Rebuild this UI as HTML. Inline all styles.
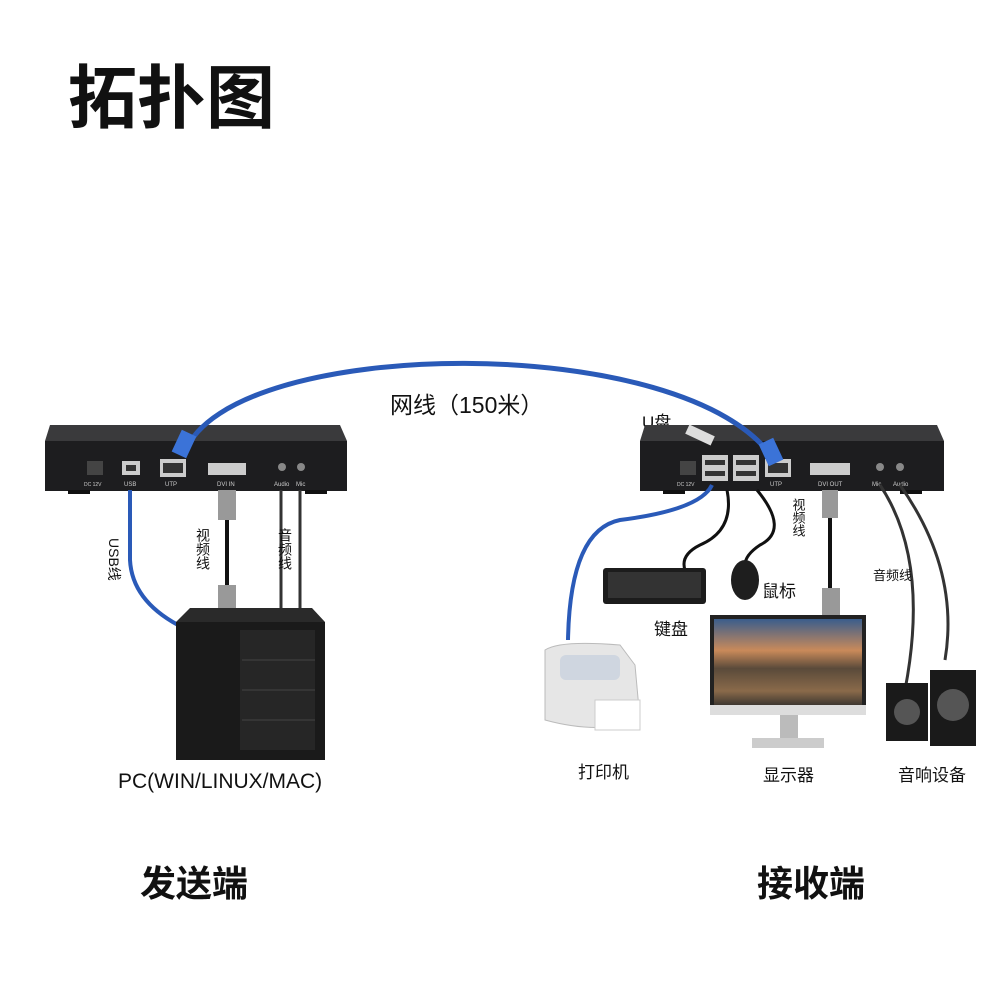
<!DOCTYPE html>
<html><head><meta charset="utf-8"><style>
html,body{margin:0;padding:0;background:#fff;}
svg{display:block}
text{font-family:"Liberation Sans","Noto Sans CJK SC",sans-serif;}
</style></head><body>
<svg width="1000" height="1000" viewBox="0 0 1000 1000" xmlns="http://www.w3.org/2000/svg">
<defs>
<linearGradient id="sky" x1="0" y1="0" x2="0" y2="1">
<stop offset="0" stop-color="#3a5d8c"/><stop offset="0.35" stop-color="#c98a5a"/><stop offset="0.55" stop-color="#5a4a3a"/><stop offset="0.8" stop-color="#8a6a4a"/><stop offset="1" stop-color="#2a2a2a"/>
</linearGradient>
</defs>
<text x="68" y="122" font-size="69" font-weight="bold" fill="#111">拓扑图</text>

<text x="390" y="413" font-size="23" fill="#111">网线（150米）</text>
<text x="642" y="428" font-size="17" fill="#111">U盘</text>

<!-- left box -->
<polygon points="50,425 340,425 347,441 45,441" fill="#3a3a3c"/>
<rect x="45" y="441" width="302" height="50" fill="#1d1d1f"/>
<rect x="68" y="490" width="22" height="4" fill="#111"/><rect x="305" y="490" width="22" height="4" fill="#111"/>
<rect x="87" y="461" width="16" height="14" fill="#444"/><text x="84" y="486" font-size="5" fill="#ccc">DC 12V</text>
<rect x="122" y="461" width="18" height="14" fill="#ccc"/><rect x="126" y="465" width="10" height="6" fill="#333"/><text x="124" y="486" font-size="6" fill="#ccc">USB</text>
<rect x="160" y="459" width="26" height="18" fill="#ccc"/><rect x="163" y="463" width="20" height="10" fill="#333"/><text x="165" y="486" font-size="6" fill="#ccc">UTP</text>
<rect x="208" y="463" width="38" height="12" fill="#ccc"/><text x="217" y="486" font-size="6" fill="#ccc">DVI IN</text>
<circle cx="282" cy="467" r="4" fill="#888"/><circle cx="301" cy="467" r="4" fill="#888"/>
<text x="274" y="486" font-size="6" fill="#ccc">Audio</text><text x="296" y="486" font-size="6" fill="#ccc">Mic</text>

<!-- left cables -->
<path d="M130 490 L130 560 Q132 600 178 625" fill="none" stroke="#2a5ab8" stroke-width="4"/>
<text font-size="14" fill="#111" transform="translate(109,538) rotate(90)">USB线</text>
<rect x="218" y="490" width="18" height="30" fill="#999"/>
<line x1="227" y1="520" x2="227" y2="585" stroke="#111" stroke-width="4"/>
<rect x="218" y="585" width="18" height="28" fill="#999"/>
<text x="203" y="528" font-size="14" fill="#111" writing-mode="tb">视频线</text>
<line x1="281" y1="490" x2="281" y2="612" stroke="#333" stroke-width="3"/>
<line x1="300" y1="490" x2="300" y2="612" stroke="#333" stroke-width="3"/>
<text x="285" y="528" font-size="14" fill="#111" writing-mode="tb">音频线</text>

<!-- PC -->
<polygon points="190,608 312,608 325,622 176,622" fill="#2a2a2a"/>
<rect x="176" y="622" width="149" height="138" fill="#1a1a1a"/>
<rect x="240" y="630" width="75" height="120" fill="#262626"/>
<line x1="242" y1="660" x2="315" y2="660" stroke="#444"/><line x1="242" y1="690" x2="315" y2="690" stroke="#444"/><line x1="242" y1="720" x2="315" y2="720" stroke="#444"/>
<text x="118" y="788" font-size="21" fill="#111">PC(WIN/LINUX/MAC)</text>
<text x="140" y="896" font-size="36" font-weight="bold" fill="#111">发送端</text>

<!-- right box -->
<polygon points="645,425 937,425 944,441 640,441" fill="#3a3a3c"/>
<rect x="640" y="441" width="304" height="50" fill="#1d1d1f"/>
<rect x="663" y="490" width="22" height="4" fill="#111"/><rect x="900" y="490" width="22" height="4" fill="#111"/>
<rect x="680" y="461" width="16" height="14" fill="#444"/><text x="677" y="486" font-size="5" fill="#ccc">DC 12V</text>
<rect x="702" y="455" width="26" height="26" fill="#ccc"/><rect x="733" y="455" width="26" height="26" fill="#ccc"/>
<rect x="705" y="460" width="20" height="5" fill="#333"/><rect x="705" y="471" width="20" height="5" fill="#333"/>
<rect x="736" y="460" width="20" height="5" fill="#333"/><rect x="736" y="471" width="20" height="5" fill="#333"/>
<rect x="686" y="430" width="28" height="10" fill="#ddd" transform="rotate(25 700 435)"/>
<rect x="765" y="459" width="26" height="18" fill="#ccc"/><rect x="768" y="463" width="20" height="10" fill="#333"/><text x="770" y="486" font-size="6" fill="#ccc">UTP</text>
<rect x="810" y="463" width="40" height="12" fill="#ccc"/><text x="818" y="486" font-size="6" fill="#ccc">DVI OUT</text>
<circle cx="880" cy="467" r="4" fill="#888"/><circle cx="900" cy="467" r="4" fill="#888"/>
<text x="872" y="486" font-size="6" fill="#ccc">Mic</text><text x="893" y="486" font-size="6" fill="#ccc">Audio</text>

<!-- network cable over boxes -->
<path d="M185 452 C 230 335, 690 330, 774 460" fill="none" stroke="#2a5ab8" stroke-width="5"/>
<rect x="176" y="432" width="16" height="24" fill="#3b73d8" transform="rotate(25 184 444)"/>
<rect x="763" y="440" width="16" height="24" fill="#3b73d8" transform="rotate(-25 771 452)"/>

<!-- right cables -->
<path d="M712 485 Q700 510 620 520 Q570 530 568 640" fill="none" stroke="#2a5ab8" stroke-width="4"/>
<path d="M727 490 Q735 530 700 545 Q680 555 685 570" fill="none" stroke="#111" stroke-width="3"/>
<path d="M757 490 Q790 530 760 545 Q745 555 745 565" fill="none" stroke="#111" stroke-width="3"/>
<rect x="822" y="490" width="16" height="28" fill="#999"/>
<line x1="830" y1="518" x2="830" y2="590" stroke="#111" stroke-width="4"/>
<rect x="822" y="588" width="18" height="28" fill="#999"/>
<text x="798" y="498" font-size="13" fill="#111" writing-mode="tb">视频线</text>
<path d="M880 485 Q930 560 905 690" fill="none" stroke="#333" stroke-width="3"/>
<path d="M900 485 Q960 570 945 660" fill="none" stroke="#333" stroke-width="3"/>
<text x="873" y="580" font-size="13" fill="#111">音频线</text>

<!-- keyboard -->
<rect x="603" y="568" width="103" height="36" rx="3" fill="#1c1c1c"/>
<rect x="608" y="572" width="93" height="26" fill="#333"/>
<text x="654" y="635" font-size="17" fill="#111">键盘</text>
<!-- mouse -->
<ellipse cx="745" cy="580" rx="14" ry="20" fill="#1e1e1e"/>
<text x="762" y="597" font-size="17" fill="#111">鼠标</text>

<!-- printer -->
<path d="M545 650 Q560 640 620 645 L635 665 L640 720 Q600 735 545 720 Z" fill="#e6e6e6" stroke="#bbb"/>
<rect x="560" y="655" width="60" height="25" rx="6" fill="#cfd6e0"/>
<rect x="595" y="700" width="45" height="30" fill="#fff" stroke="#ccc"/>
<text x="578" y="778" font-size="17" fill="#111">打印机</text>

<!-- monitor -->
<rect x="710" y="615" width="156" height="100" fill="#222"/>
<rect x="714" y="619" width="148" height="90" fill="url(#sky)"/>
<rect x="710" y="705" width="156" height="10" fill="#ddd"/>
<rect x="780" y="715" width="18" height="25" fill="#bbb"/>
<rect x="752" y="738" width="72" height="10" fill="#ccc"/>
<text x="763" y="781" font-size="17" fill="#111">显示器</text>

<!-- speakers -->
<rect x="886" y="683" width="42" height="58" fill="#1a1a1a"/><circle cx="907" cy="712" r="13" fill="#555"/>
<rect x="930" y="670" width="46" height="76" fill="#1a1a1a"/><circle cx="953" cy="705" r="16" fill="#555"/>
<text x="898" y="781" font-size="17" fill="#111">音响设备</text>

<text x="757" y="896" font-size="36" font-weight="bold" fill="#111">接收端</text>
</svg>
</body></html>
